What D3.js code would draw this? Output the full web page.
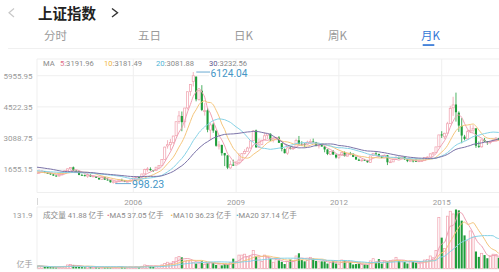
<!DOCTYPE html>
<html><head><meta charset="utf-8">
<script src="https://cdn.jsdelivr.net/npm/d3@7/dist/d3.min.js"></script>
<style>
html,body{margin:0;padding:0;background:#fff;}
svg{display:block;font-family:Roboto,"Noto Sans CJK SC",sans-serif;}
</style></head><body>
<svg id="chart" width="499" height="272"></svg>
<script>
// Shanghai Composite, monthly candles from Mar 2003 to Sep 2016
const firstMonth = {year: 2003, month: 3};

// closes Oct 2000 .. Feb 2003 (only feed the moving averages)
const priorCloses = [1961,2070,2073,
  2065,1959,2112,2119,2214,2218,1920,1834,1738,1690,1747,1646,
  1491,1524,1595,1667,1515,1732,1694,1669,1581,1507,1442,1358,
  1500,1512];

const opens = [
  1511,1510,1523,1577,1486,1476,1420,1366,1349,1397,
  1492,1591,1676,1750,1589,1557,1396,1386,1341,1399,1323,1340,
  1261,1186,1305,1181,1159,1058,1079,1082,1163,1155,1093,1099,
  1163,1261,1299,1299,1445,1642,1672,1612,1600,1757,1838,2101,
  2728,2783,2885,3196,3856,4104,3837,4475,5228,5683,5914,4868,
  5265,4320,4365,3457,3715,3434,2720,2774,2406,2294,1719,1871,
  1849,1961,2083,2385,2482,2634,2968,3443,2658,2788,3003,3202,
  3289,2984,3054,3116,2855,2586,2398,2642,2636,2660,2986,2822,
  2825,2795,2909,2932,2911,2741,2767,2701,2568,2344,2471,2326,
  2212,2296,2435,2256,2399,2371,2228,2098,2047,2087,2073,1976,
  2289,2386,2361,2237,2176,2303,1985,1995,2099,2180,2143,2220,
  2112,2032,2057,2031,2026,2037,2050,2204,2218,2364,2423,2690,
  3259,3148,3317,3750,4480,4633,4255,3643,3156,3057,3391,3455,
  3536,2730,2688,3001,2939,2913,2931,2953,3085];

const highs = [
  1549,1649,1620,1576,1542,1490,1432,1380,1416,1512,
  1600,1695,1760,1783,1626,1580,1451,1415,1495,1421,1376,1347,
  1269,1328,1316,1270,1165,1146,1090,1195,1223,1155,1111,1180,
  1259,1307,1305,1445,1682,1757,1746,1617,1753,1839,2101,2698,
  2994,3049,3194,3841,4335,4311,4474,5220,5562,6124.04,5914,5303,
  5522,4695,4473,3786,3786,3434,2952,2786,2406,2306,2051,2100,
  2016,2402,2405,2580,2688,2999,3454,3479,3068,3000,3361,3296,
  3306,3089,3128,3181,2855,2613,2678,2704,2677,3060,3186,2945,
  2858,2970,3040,3067,2911,2780,2826,2708,2575,2487,2536,2338,
  2301,2479,2478,2402,2453,2377,2241,2148,2112,2133,2089,2276,
  2398,2444,2370,2264,2334,2315,2092,2150,2270,2243,2260,2250,
  2113,2177,2086,2146,2061,2087,2218,2249,2391,2428,2690,3239,
  3406,3335,3835,4572,4986,5178,4317,4006,3237,3464,3678,3684,
  3539,2934,3019,3098,2953,2947,3069,3140,3101];

const lows = [
  1447,1493,1508,1480,1466,1400,1350,1307,1316,1395,
  1486,1578,1640,1577,1538,1384,1362,1327,1259,1320,1306,1259,
  1177,1186,1166,1136,1043,998.23,1004,1082,1130,1067,1074,1096,
  1163,1257,1254,1297,1417,1541,1588,1538,1594,1750,1826,2088,
  2605,2541,2822,3180,3745,3404,3563,4401,5032,5462,4778,4812,
  4330,4123,3357,2990,3333,2693,2566,2284,1802,1664,1678,1814,
  1844,1960,2037,2341,2480,2617,2966,2640,2639,2767,3000,3039,
  2956,2890,2982,2877,2481,2382,2319,2567,2573,2660,2774,2721,
  2661,2765,2850,2888,2707,2610,2701,2437,2307,2307,2319,2149,
  2132,2291,2242,2255,2304,2214,2099,2045,2002,2058,1959,1949,
  2264,2300,2205,2161,2166,1849,1951,1991,2096,2128,2128,2090,
  1984,2032,1974,2014,1991,2010,2043,2188,2210,2290,2392,2675,
  3095,3050,3313,3743,4108,3847,3374,2850,2983,3027,3327,3358,
  2639,2638,2650,2915,2781,2807,2928,2952,2969];

const closes = [
  1510,1521,1576,1487,1476,1421,1367,1348,1397,1497,
  1590,1675,1742,1595,1555,1399,1386,1342,1396,1320,1340,1266,
  1191,1306,1181,1159,1060,1080,1083,1162,1155,1092,1099,1161,
  1258,1299,1298,1440,1641,1672,1612,1601,1753,1837,2099,2675,
  2786,2881,3183,3841,4109,3820,4471,5218,5552,5954,4871,5261,
  4383,4348,3472,3693,3433,2736,2775,2397,2293,1729,1871,1821,
  1991,2082,2373,2477,2632,2959,3412,2667,2779,2996,3195,3277,
  2989,3051,3110,2870,2592,2398,2638,2639,2656,2979,2820,2808,
  2791,2905,2928,2911,2743,2762,2701,2568,2359,2468,2333,2199,
  2292,2428,2263,2397,2373,2225,2103,2047,2086,2069,1980,2269,
  2385,2366,2237,2178,2301,1979,1994,2098,2175,2141,2220,2116,
  2033,2056,2033,2026,2039,2048,2202,2217,2364,2420,2683,3235,
  3210,3310,3748,4442,4612,4277,3664,3206,3053,3383,3445,3539,
  2738,2688,3004,2938,2917,2930,2979,3085,3005];

// monthly volume, 亿手
const volumes = [
  5,6,5,3.5,3.5,3,3,2.5,3.5,4.5,
  5,8,9,8,4,4,3,2.5,5,3,3,2.5,
  2,3,3,3.5,2.5,3,2.5,4.5,4,2.5,2.5,3.5,
  3,4,3.5,5,8,7,6,4,5,5,8,11,
  14,12,16,24,27,25,17,18,17,14,11,12,
  16,9,12,14,12,8,10,7,10,9,13,22,
  16,30,30,32,26,28,40,27,24,16,30,27,
  22,14,20,18,15,10,16,20,16,28,34,19,
  16,18,25,22,17,15,16,16,11,13,16,11,
  9,19,18,15,14,9,10,11,9,9,8,17,
  22,15,21,11,17,16,18,19,25,17,16,15,
  11,17,16,13,11,12,19,20,28,24,40,114,
  69,45,117,128,122,131.9,130,107,74,62,84,70,
  38,26,34,30,23,27,32,31,24];

const yearTicks = [2006, 2009, 2012, 2015];
const priceTicks = [1655.15, 3088.75, 4522.35, 5955.95];
const volumeMax = 131.9;
const maPeriods = [5, 10, 20, 30];
const maReadout = ["3191.96", "3181.49", "3081.88", "3232.56"];
const volMaPeriods = [5, 10, 20];
const volReadout = ["41.88", "37.05", "36.23", "37.14"];
const tabs = ["分时", "五日", "日K", "周K", "月K"];
const extremeHigh = 6124.04, extremeLow = 998.23;

const maColors = ["#ee9fb2", "#f4c57c", "#86d2e6", "#7b73a8"];
const maTextColors = ["#e2708a", "#efb640", "#4db4d6", "#5e5890"];
const upColor = "#f0a0ad", downColor = "#1f9d3b";

const svg = d3.select("#chart");

// ---- header ----
svg.append("path").attr("d", "M14,8.5L9,12.7L14,17").attr("fill", "none")
  .attr("stroke", "#c8c8c8").attr("stroke-width", 1.2);
svg.append("text").attr("x", 38).attr("y", 19).attr("font-size", 14.5)
  .attr("font-weight", "bold").attr("fill", "#222")
  .attr("font-family", "'Noto Sans CJK SC',sans-serif").text("上证指数");
svg.append("path").attr("d", "M112,8.5L117.5,12.8L112,17").attr("fill", "none")
  .attr("stroke", "#333").attr("stroke-width", 1.4);

const tabX = [44, 138, 234, 328, 421];
tabs.forEach((t, i) => {
  svg.append("text").attr("x", tabX[i]).attr("y", 40).attr("font-size", 11.5)
    .attr("fill", i === 4 ? "#3477d6" : "#9a9a9a")
    .attr("font-family", "'Noto Sans CJK SC',sans-serif").text(t);
});
svg.append("rect").attr("x", 422.7).attr("y", 44.2).attr("width", 11.6).attr("height", 1.7).attr("fill", "#3477d6");
svg.append("line").attr("x1", 8).attr("x2", 499).attr("y1", 48.5).attr("y2", 48.5)
  .attr("stroke", "#f0f0f0");

// ---- scales ----
const monthIdx = (y, m) => (y - firstMonth.year) * 12 + (m - firstMonth.month);
const x = d3.scaleLinear().domain([monthIdx(2006, 1), monthIdx(2015, 1)]).range([133.3, 441.7]);
const y = d3.scaleLinear().domain([priceTicks[0], priceTicks[3]]).range([169.3, 75.7]);
const yv = d3.scaleLinear().domain([0, volumeMax]).range([268.5, 209.5]);

const plot = {left: 37, right: 499, top: 59, bottom: 192.5};
const vpanel = {top: 207, bottom: 269};

const defs = svg.append("defs");
defs.append("clipPath").attr("id", "clipMain").append("rect")
  .attr("x", plot.left).attr("y", plot.top).attr("width", plot.right - plot.left + 2).attr("height", plot.bottom - plot.top);
defs.append("clipPath").attr("id", "clipVol").append("rect")
  .attr("x", plot.left).attr("y", vpanel.top).attr("width", plot.right - plot.left + 2).attr("height", vpanel.bottom - vpanel.top);

const grid = svg.append("g").attr("stroke", "#efefef").attr("stroke-width", 1);
// frames
grid.append("line").attr("x1", plot.left).attr("x2", 499).attr("y1", plot.top).attr("y2", plot.top);
grid.append("line").attr("x1", plot.left).attr("x2", 499).attr("y1", plot.bottom).attr("y2", plot.bottom);
grid.append("line").attr("x1", plot.left).attr("x2", plot.left).attr("y1", plot.top).attr("y2", plot.bottom);
grid.append("line").attr("x1", plot.left).attr("x2", 499).attr("y1", vpanel.top).attr("y2", vpanel.top);
grid.append("line").attr("x1", plot.left).attr("x2", 499).attr("y1", vpanel.bottom).attr("y2", vpanel.bottom);
grid.append("line").attr("x1", plot.left).attr("x2", plot.left).attr("y1", vpanel.top).attr("y2", vpanel.bottom);
grid.append("line").attr("x1", plot.left + 0.5).attr("x2", plot.left + 0.5).attr("y1", 198).attr("y2", 205).attr("stroke", "#d8d8d8");
priceTicks.forEach(v => {
  grid.append("line").attr("x1", plot.left).attr("x2", 499).attr("y1", y(v)).attr("y2", y(v));
});
yearTicks.forEach(yr => {
  const gx = x(monthIdx(yr, 1));
  grid.append("line").attr("x1", gx).attr("x2", gx).attr("y1", plot.top).attr("y2", plot.bottom);
  grid.append("line").attr("x1", gx).attr("x2", gx).attr("y1", vpanel.top).attr("y2", vpanel.bottom);
});

// axis labels
const axisText = svg.append("g").attr("font-size", 8).attr("fill", "#9a9a9a");
priceTicks.forEach(v => {
  axisText.append("text").attr("x", 32.5).attr("y", y(v)).attr("dy", "0.35em")
    .attr("text-anchor", "end").text(v.toFixed(2));
});
yearTicks.forEach(yr => {
  axisText.append("text").attr("x", x(monthIdx(yr, 1))).attr("y", 205)
    .attr("text-anchor", "middle").text(yr);
});
axisText.append("text").attr("x", 32.5).attr("y", 217.5).attr("text-anchor", "end").text(volumeMax);
axisText.append("text").attr("x", 32.5).attr("y", 267).attr("text-anchor", "end")
  .attr("font-family", "'Noto Sans CJK SC',sans-serif").text("亿手");

// ---- candles ----
const data = closes.map((c, i) => ({i, o: opens[i], h: highs[i], l: lows[i], c, v: volumes[i]}));
const bw = 2.1;
const main = svg.append("g").attr("clip-path", "url(#clipMain)");
const cg = main.selectAll("g.k").data(data).join("g");
cg.append("line")
  .attr("x1", d => x(d.i)).attr("x2", d => x(d.i))
  .attr("y1", d => y(d.h)).attr("y2", d => y(d.l))
  .attr("stroke", d => d.c >= d.o ? upColor : downColor).attr("stroke-width", 0.8);
cg.append("rect")
  .attr("x", d => x(d.i) - bw / 2)
  .attr("y", d => y(Math.max(d.o, d.c)))
  .attr("width", bw)
  .attr("height", d => Math.max(0.8, Math.abs(y(d.o) - y(d.c))))
  .attr("fill", d => d.c >= d.o ? "#fff" : downColor)
  .attr("stroke", d => d.c >= d.o ? upColor : "none")
  .attr("stroke-width", 0.7);

// moving averages of the close
const allCloses = priorCloses.concat(closes);
const off = priorCloses.length;
maPeriods.forEach((p, k) => {
  const pts = closes.map((_, i) => {
    const end = off + i + 1;
    return [i, d3.mean(allCloses.slice(Math.max(0, end - p), end))];
  });
  main.append("path").datum(pts)
    .attr("d", d3.line().x(d => x(d[0])).y(d => y(d[1])).curve(d3.curveMonotoneX))
    .attr("fill", "none").attr("stroke", maColors[k]).attr("stroke-width", 1);
});

// MA readout
const lg = svg.append("text").attr("x", 43).attr("y", 66.3).attr("font-size", 7.6).attr("fill", "#8a8a8a");
lg.append("tspan").text("MA");
const lgX = [60, 104, 156, 209];
maPeriods.forEach((p, k) => {
  lg.append("tspan").attr("x", lgX[k]).attr("fill", maTextColors[k]).text(p);
  lg.append("tspan").attr("fill", "#8a8a8a").text(":" + maReadout[k]);
});

// extreme labels
const hiIdx = highs.indexOf(extremeHigh);
const loIdx = lows.indexOf(extremeLow);
const lblColor = "#4596c6";
const hiLabelY = y(extremeHigh) + 1.2;
svg.append("rect").attr("x", 209).attr("y", hiLabelY - 4.6).attr("width", 34).attr("height", 10).attr("fill", "#fff");
svg.append("line").attr("x1", x(hiIdx) + 3).attr("x2", 210).attr("y1", y(extremeHigh)).attr("y2", y(extremeHigh))
  .attr("stroke", lblColor).attr("stroke-width", 0.8);
svg.append("text").attr("x", 210.5).attr("y", hiLabelY).attr("dy", "0.36em")
  .attr("font-size", 10.2).attr("fill", lblColor).text(extremeHigh.toFixed(2));
svg.append("line").attr("x1", x(loIdx) + 2).attr("x2", 131).attr("y1", y(extremeLow)).attr("y2", y(extremeLow))
  .attr("stroke", lblColor).attr("stroke-width", 0.8);
svg.append("text").attr("x", 132).attr("y", y(extremeLow)).attr("dy", "0.38em")
  .attr("font-size", 10.5).attr("fill", lblColor).text(extremeLow.toFixed(2));

// ---- volume ----
const vol = svg.append("g").attr("clip-path", "url(#clipVol)");
vol.selectAll("rect").data(data).join("rect")
  .attr("x", d => x(d.i) - bw / 2)
  .attr("y", d => yv(d.v))
  .attr("width", bw)
  .attr("height", d => yv(0) - yv(d.v))
  .attr("fill", d => d.c >= d.o ? "#fff" : downColor)
  .attr("stroke", d => d.c >= d.o ? upColor : "none")
  .attr("stroke-width", 0.7);
volMaPeriods.forEach((p, k) => {
  const pts = volumes.map((_, i) => [i, d3.mean(volumes.slice(Math.max(0, i + 1 - p), i + 1))]);
  vol.append("path").datum(pts)
    .attr("d", d3.line().x(d => x(d[0])).y(d => yv(d[1])).curve(d3.curveMonotoneX))
    .attr("fill", "none").attr("stroke", maColors[k]).attr("stroke-width", 1);
});

// volume readout
const vl = svg.append("text").attr("x", 43).attr("y", 217.5).attr("font-size", 7.6).attr("fill", "#8a8a8a")
  .attr("font-family", "Roboto,'Noto Sans CJK SC',sans-serif");
vl.append("tspan").text("成交量 " + volReadout[0] + " 亿手");
const vlX = [107, 170.5, 236];
volMaPeriods.forEach((p, k) => {
  vl.append("tspan").attr("x", vlX[k]).attr("fill", maTextColors[k]).text("•");
  vl.append("tspan").attr("fill", "#8a8a8a").text("MA" + p + " " + volReadout[k + 1] + " 亿手");
});
</script>
</body></html>
